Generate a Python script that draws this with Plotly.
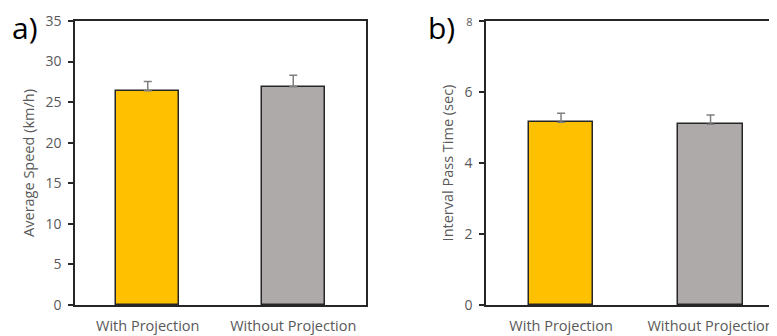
import plotly.graph_objects as go

categories = ["With Projection", "Without Projection"]
speed_values = [26.4, 26.9]
speed_errors = [1.15, 1.4]
pass_values = [5.15, 5.09]
pass_errors = [0.25, 0.26]
bar_colors = ["#FFC000", "#AEAAAA"]
speed_ticks = [0, 5, 10, 15, 20, 25, 30, 35]
pass_ticks = [0, 2, 4, 6, 8]

W, H = 777, 336
OFF = 8  # default page body margin
FONT = "Open Sans"
GRAY = "#595959"
LINE = "#262626"


def px(x):
    return (x - OFF) / W


def py(y):
    return (H - (y - OFF)) / H


fig = go.Figure()


def add_bars(vals, errs, xa, ya):
    fig.add_trace(go.Bar(
        x=categories, y=vals, xaxis=xa, yaxis=ya,
        width=0.43,
        marker=dict(color=bar_colors, line=dict(color=LINE, width=1.5)),
        error_y=dict(type="data", symmetric=False, array=errs,
                     arrayminus=[0] * len(errs), color="#7F7F7F",
                     thickness=1.5, width=4),
        showlegend=False, hoverinfo="skip"))


add_bars(speed_values, speed_errors, "x", "y")
add_bars(pass_values, pass_errors, "x2", "y2")

ydom = [py(305), py(21)]

common_x = dict(type="category", showline=True, linecolor=LINE, linewidth=1.5,
                mirror=True, ticks="", showgrid=False, zeroline=False,
                tickfont=dict(family=FONT, size=14.5, color=GRAY),
                ticklabelstandoff=7, fixedrange=True, automargin=False)
common_y = dict(showline=True, linecolor=LINE, linewidth=1.5,
                ticks="outside", ticklen=5, tickcolor=LINE, tickwidth=1.5,
                showgrid=False, zeroline=False, automargin=False,
                tickfont=dict(family=FONT, size=14, color=GRAY),
                ticklabelstandoff=4,
                title_font=dict(family=FONT, size=14.5, color=GRAY),
                title_standoff=7, fixedrange=True)

fig.update_layout(
    width=W, height=H,
    margin=dict(l=0, r=0, t=0, b=0, autoexpand=False),
    paper_bgcolor="white", plot_bgcolor="white",
    bargap=0,
    xaxis=dict(common_x, domain=[px(75), px(366)], range=[-0.5, 1.5], anchor="y"),
    yaxis=dict(common_y, domain=ydom, range=[0, 35], tickvals=speed_ticks,
               mirror=True, title_text="Average Speed (km/h)", anchor="x"),
    xaxis2=dict(common_x, domain=[px(486), 1.0],
                range=[-0.502, -0.502 + (W + OFF - 486) / 149.5], anchor="y2"),
    yaxis2=dict(common_y, domain=ydom, range=[0, 8], tickvals=pass_ticks,
                ticktext=[str(t) for t in pass_ticks[:-1]] + ["<span style='font-size:11px'>8</span>"],
                mirror=False, title_text="Interval Pass Time (sec)", anchor="x2"),
    annotations=[
        dict(text="a)", x=px(25), y=py(27), xref="paper", yref="paper",
             xanchor="center", yanchor="middle",
             showarrow=False, font=dict(family=FONT, size=30, color="black")),
        dict(text="b)", x=px(441), y=py(27), xref="paper", yref="paper",
             xanchor="center", yanchor="middle",
             showarrow=False, font=dict(family=FONT, size=30, color="black")),
    ],
)

fig.write_html("out.html")
